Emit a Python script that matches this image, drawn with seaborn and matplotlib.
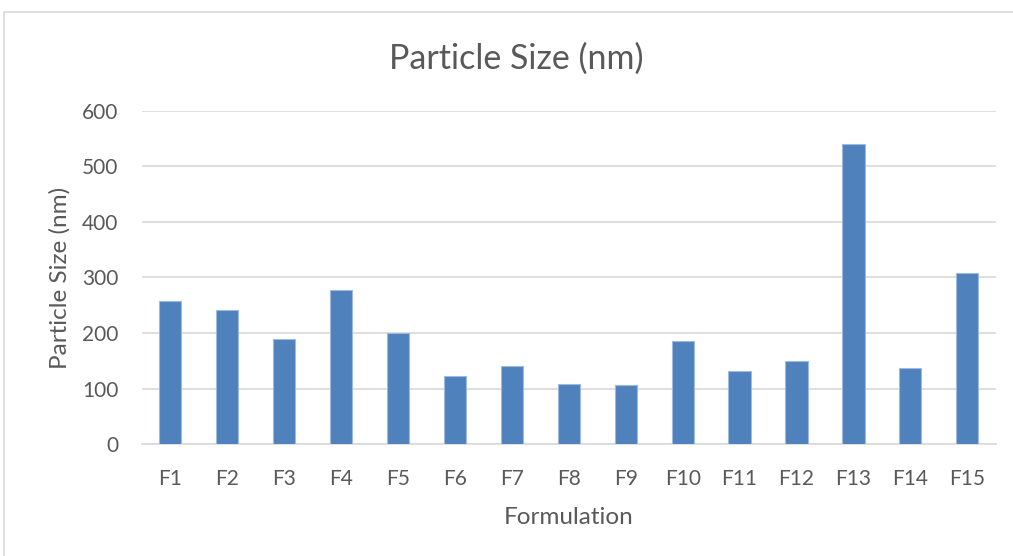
import matplotlib
matplotlib.use("Agg")
import matplotlib.pyplot as plt
import seaborn as sns
import pandas as pd
from matplotlib.patches import Rectangle

categories = ["F1", "F2", "F3", "F4", "F5", "F6", "F7", "F8", "F9", "F10",
              "F11", "F12", "F13", "F14", "F15"]
particle_size = [257, 241, 189, 277, 200, 122, 141, 109, 107, 185,
                 131, 149, 541, 137, 308]
yticks = [0, 100, 200, 300, 400, 500, 600]

df = pd.DataFrame({"Formulation": categories, "Particle Size (nm)": particle_size})

sns.set_theme(style="white")
plt.rcParams['font.family'] = ['Lato', 'DejaVu Sans']

text_color = "#595959"
grid_color = "#D9D9D9"

fig = plt.figure(figsize=(10.13, 5.56), dpi=100)
ax = fig.add_axes([0.140, 0.2014, 0.843, 0.599])

sns.barplot(data=df, x="Formulation", y="Particle Size (nm)", ax=ax,
            color="#4F81BD", saturation=1, width=0.39,
            edgecolor="#9DB9DE", linewidth=0.8, zorder=3)

ax.set_ylim(0, 600)
ax.set_yticks(yticks)
ax.set_xlim(-0.5, len(categories) - 0.5)
ax.yaxis.grid(True, color=grid_color, linewidth=1.2, zorder=0)
ax.set_axisbelow(True)
for side in ["top", "right", "left"]:
    ax.spines[side].set_visible(False)
ax.spines["bottom"].set_color(grid_color)
ax.spines["bottom"].set_linewidth(1.2)
ax.tick_params(axis="both", length=0, labelsize=15, colors=text_color)
ax.tick_params(axis="x", pad=18)
ax.tick_params(axis="y", pad=17)

ax.set_xlabel("Formulation", fontsize=17.5, color=text_color, labelpad=13)
ax.set_ylabel("Particle Size (nm)", fontsize=17.5, color=text_color, labelpad=8)
fig.text(0.5095, 0.895, "Particle Size (nm)", fontsize=24.5, color=text_color,
         ha="center", va="center")

fig.patches.append(Rectangle((0.004, -0.1), 1.2, 1.078, transform=fig.transFigure,
                             fill=False, edgecolor="#D9D9D9", linewidth=1.2))

fig.savefig("out.png", dpi=100, facecolor="white")
